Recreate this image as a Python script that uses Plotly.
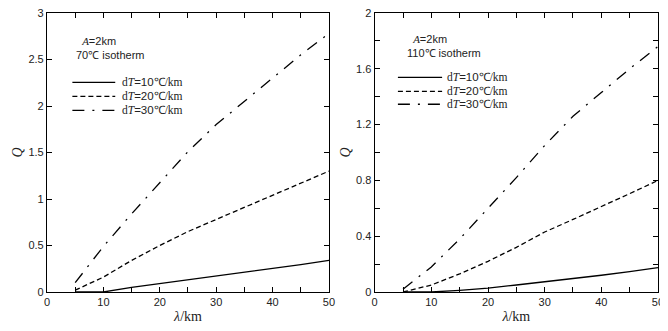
import plotly.graph_objects as go
from plotly.subplots import make_subplots

# ---- data ----
lam = [5, 10, 15, 20, 25, 30, 35, 40, 45, 50]

# left panel: A=2km, 70℃ isotherm
q70_dt10 = [0.0, 0.0, 0.05, 0.09, 0.13, 0.175, 0.215, 0.255, 0.295, 0.34]
q70_dt20 = [0.02, 0.16, 0.34, 0.5, 0.65, 0.78, 0.91, 1.04, 1.17, 1.3]
q70_dt30 = [0.1, 0.49, 0.84, 1.18, 1.51, 1.8, 2.05, 2.3, 2.55, 2.78]

# right panel: A=2km, 110℃ isotherm
q110_dt10 = [0.0, 0.0, 0.012, 0.028, 0.05, 0.072, 0.095, 0.12, 0.146, 0.175]
q110_dt20 = [0.0, 0.05, 0.13, 0.22, 0.32, 0.43, 0.52, 0.61, 0.705, 0.8]
q110_dt30 = [0.02, 0.18, 0.38, 0.6, 0.82, 1.05, 1.26, 1.43, 1.6, 1.76]

series_names = ["dT=10℃/km", "dT=20℃/km", "dT=30℃/km"]
series_labels = [
    '<span style="font-family:Liberation Serif">d<i>T</i></span>=10<span style="font-family:Liberation Serif">℃/km</span>',
    '<span style="font-family:Liberation Serif">d<i>T</i></span>=20<span style="font-family:Liberation Serif">℃/km</span>',
    '<span style="font-family:Liberation Serif">d<i>T</i></span>=30<span style="font-family:Liberation Serif">℃/km</span>',
]
dashes = ["solid", "5px,3px", "12px,8px,2px,8px"]

x_tickvals = [0, 5, 10, 15, 20, 25, 30, 35, 40, 45, 50]
x_ticktext = ["0", "", "10", "", "20", "", "30", "", "40", "", "50"]
y1_tickvals = [0, 0.5, 1, 1.5, 2, 2.5, 3]
y1_ticktext = ["0", "0.5", "1", "1.5", "2", "2.5", "3"]
y2_tickvals = [0, 0.2, 0.4, 0.6, 0.8, 1.0, 1.2, 1.4, 1.6, 1.8, 2.0]
y2_ticktext = ["0", "", "0.4", "", "0.8", "", "1.2", "", "1.6", "", "2"]

fig = make_subplots(rows=1, cols=2, horizontal_spacing=0.075)

left = [q70_dt10, q70_dt20, q70_dt30]
right = [q110_dt10, q110_dt20, q110_dt30]
for i in range(3):
    fig.add_trace(go.Scatter(x=lam, y=left[i], mode="lines", name=series_names[i],
                             line=dict(color="black", width=1.3, dash=dashes[i]),
                             showlegend=False), row=1, col=1)
    fig.add_trace(go.Scatter(x=lam, y=right[i], mode="lines", name=series_names[i],
                             line=dict(color="black", width=1.3, dash=dashes[i]),
                             showlegend=False), row=1, col=2)

axis_common = dict(showline=True, linecolor="black", linewidth=1.2, mirror="ticks",
                   ticks="inside", ticklen=5, tickwidth=1, tickcolor="black",
                   showgrid=False, zeroline=False, automargin=False,
                   ticklabeloverflow="allow",
                   tickfont=dict(family="Liberation Sans, Arial", size=11, color="#222"))

title_font = dict(family="Liberation Serif, Times New Roman", size=14, color="#222")

for c in (1, 2):
    fig.update_xaxes(range=[0, 50], tickvals=x_tickvals, ticktext=x_ticktext,
                     title=dict(text="<i>λ</i>/km", font=title_font, standoff=3),
                     row=1, col=c, **axis_common)

fig.update_yaxes(range=[0, 3], tickvals=y1_tickvals, ticktext=y1_ticktext,
                 title=dict(text="<i>Q</i>", font=title_font, standoff=2),
                 row=1, col=1, **axis_common)
fig.update_yaxes(range=[0, 2], tickvals=y2_tickvals, ticktext=y2_ticktext,
                 title=dict(text="<i>Q</i>", font=title_font, standoff=2),
                 row=1, col=2, **axis_common)

# manual legends (inside each panel)
legend_pos = [
    ("x", "y", 0.09, 0.242, 0.26, [0.751, 0.701, 0.651]),
    ("x2", "y2", 0.082, 0.238, 0.248, [0.769, 0.719, 0.673]),
]
for xr, yr, x0, x1, xt, ys in legend_pos:
    for i in range(3):
        fig.add_shape(type="line", xref=xr + " domain", yref=yr + " domain",
                      x0=x0, x1=x1, y0=ys[i], y1=ys[i],
                      line=dict(color="black", width=1.3, dash=dashes[i]))
        fig.add_annotation(xref=xr + " domain", yref=yr + " domain", x=xt, y=ys[i],
                           text=series_labels[i], showarrow=False, xanchor="left",
                           yanchor="middle",
                           font=dict(family="Liberation Sans, Arial", size=11.5, color="#222"))

# panel annotations
notes = [
    ("x", "y", 0.094, 0.875, "70℃ isotherm"),
    ("x2", "y2", 0.108, 0.881, "110℃ isotherm"),
]
for xr, yr, xa, ya, iso in notes:
    fig.add_annotation(xref=xr + " domain", yref=yr + " domain", x=xa, y=ya,
                       text='&#160;&#160;<span style="font-family:Liberation Serif"><i>A</i></span>=2km<br>' + iso,
                       showarrow=False, xanchor="left", yanchor="middle", align="left",
                       font=dict(family="Liberation Sans, Arial", size=11, color="#222"))

# page body adds an 8px offset, so the figure is sized to fill the rest of the window
fig.update_layout(width=660, height=323, margin=dict(l=39, r=10, t=5, b=39, autoexpand=False),
                  plot_bgcolor="white", paper_bgcolor="white", showlegend=False)
fig.update_xaxes(domain=[0, 0.4615], row=1, col=1)
fig.update_xaxes(domain=[0.5363, 1.0], row=1, col=2)

fig.write_html("out.html")
